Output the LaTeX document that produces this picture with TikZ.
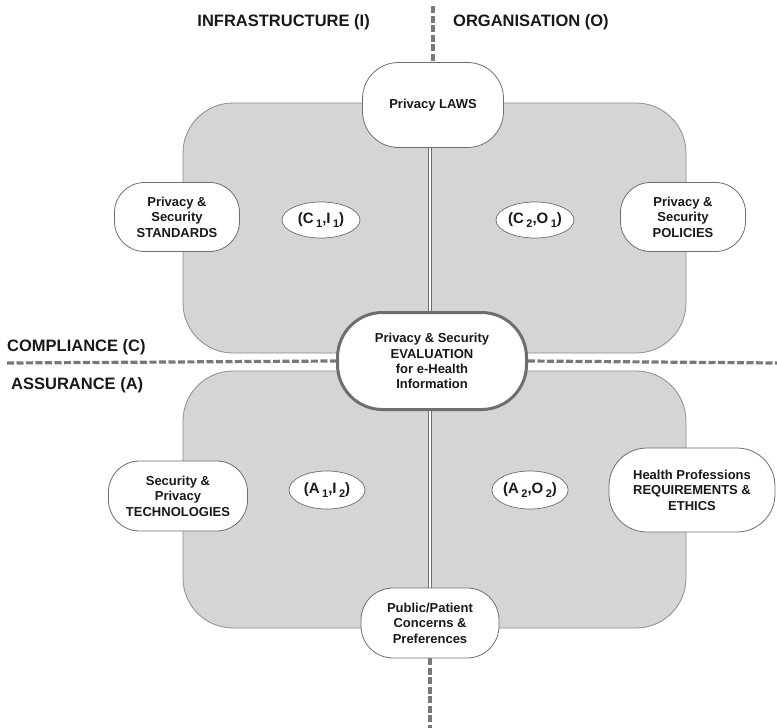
\documentclass[tikz,border=0pt]{standalone}
\usepackage{fontspec}
\setmainfont{Liberation Sans}
\usetikzlibrary{shapes.geometric}

\definecolor{panelfill}{RGB}{213,213,213}
\definecolor{panelline}{RGB}{140,140,140}
\definecolor{boxline}{RGB}{110,110,110}
\definecolor{dashgray}{RGB}{120,120,120}
\definecolor{inkcol}{RGB}{25,25,25}

\pgfdeclarelayer{back}
\pgfsetlayers{back,main}

% lowered index used in the quadrant labels
\newcommand{\lowidx}[1]{\hspace{2.5pt}\raisebox{-0.45ex}{\fontsize{11}{11}\selectfont #1}}

\tikzset{
  panel/.style={fill=panelfill, draw=panelline, line width=0.8pt, rounded corners=50pt},
  topic/.style={draw=boxline, fill=white, line width=0.8pt, inner sep=0pt,
    align=center, text=inkcol, font=\bfseries\fontsize{13}{15.5}\selectfont},
  hub/.style={draw=boxline, fill=white, line width=3pt, inner sep=0pt,
    rounded corners=45pt, minimum width=189pt, minimum height=97pt,
    align=center, text=inkcol, font=\bfseries\fontsize{13}{15.2}\selectfont},
  quad/.style={ellipse, draw=boxline, fill=white, line width=0.7pt, inner sep=0pt,
    text=inkcol, font=\bfseries\fontsize{15}{15}\selectfont},
  axislabel/.style={text=inkcol, font=\bfseries\fontsize{16.5}{18}\selectfont, inner sep=0pt},
  axisdash/.style={draw=dashgray, line width=3.2pt, dash pattern=on 7pt off 2.5pt},
  divider/.style={draw=boxline, line width=1pt, double=white, double distance=1.5pt}
}

\begin{document}
\begin{tikzpicture}[x=1pt, y=-1pt]
  \useasboundingbox (0,0) rectangle (777,728);

  % end points of the dashed axes
  \coordinate (axtop) at (433,6);
  \coordinate (axbot) at (430,728);
  \coordinate (axleft) at (7,363);
  \coordinate (axright) at (777,363);

  % axis titles
  \node[axislabel, anchor=east] (linfra) at (370,22) {INFRASTRUCTURE (I)};
  \node[axislabel, anchor=west] (lorg) at (453,22) {ORGANISATION (O)};
  \node[axislabel, anchor=west] (lcomp) at (7,347) {COMPLIANCE (C)};
  \node[axislabel, anchor=west] (lassur) at (11,385) {ASSURANCE (A)};

  % topic boxes
  \node[topic, minimum width=141pt, minimum height=85pt, rounded corners=36pt]
    (laws) at (433,105) {Privacy LAWS};
  \node[topic, minimum width=125pt, minimum height=69pt, rounded corners=30pt]
    (standards) at (177,217) {Privacy \&\\Security\\STANDARDS};
  \node[topic, minimum width=125pt, minimum height=69pt, rounded corners=30pt]
    (policies) at (683,217) {Privacy \&\\Security\\POLICIES};
  \node[topic, minimum width=139pt, minimum height=70pt, rounded corners=31pt]
    (tech) at (178,496) {Security \&\\Privacy\\TECHNOLOGIES};
  \node[topic, minimum width=166pt, minimum height=84pt, rounded corners=38pt]
    (health) at (692,490) {Health Professions\\REQUIREMENTS \&\\ETHICS};
  \node[topic, minimum width=138pt, minimum height=70pt, rounded corners=32pt]
    (public) at (430,623) {Public/Patient\\Concerns \&\\Preferences};

  % central evaluation box
  \node[hub] (eval) at (432,361) {Privacy \& Security\\EVALUATION\\for e-Health\\Information};

  % quadrant labels
  \node[quad, minimum width=78pt, minimum height=36pt] (ci) at (321,220) {(C\lowidx{1},I\lowidx{1})};
  \node[quad, minimum width=78pt, minimum height=36pt] (co) at (535,220) {(C\lowidx{2},O\lowidx{1})};
  \node[quad, minimum width=76pt, minimum height=38pt] (ai) at (327,490) {(A\lowidx{1},I\lowidx{2})};
  \node[quad, minimum width=76pt, minimum height=38pt] (ao) at (530,490) {(A\lowidx{2},O\lowidx{2})};

  \begin{pgfonlayer}{back}
    % shaded panels for the compliance and assurance halves
    \path[panel] (183,103) rectangle (686,353);
    \path[panel] (183,371) rectangle (686,628);

    % vertical divider between infrastructure and organisation
    \draw[divider] (laws.south) ++(-3,0) coordinate (dv1) -- (dv1 |- eval.north);
    \draw[divider] (public.north) coordinate (dv2) -- (dv2 |- eval.south);

    % dashed axes
    \draw[axisdash] (axtop) -- (laws.north);
    \draw[axisdash] (public.south) -- (axbot);
    \draw[axisdash] (axleft) -- (eval.west);
    \draw[axisdash] (eval.east) -- (axright);
  \end{pgfonlayer}
\end{tikzpicture}
\end{document}
